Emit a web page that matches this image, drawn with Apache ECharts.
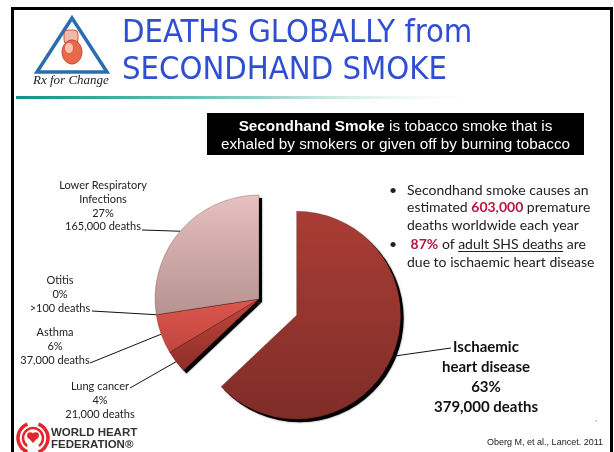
<!DOCTYPE html>
<html><head><meta charset="utf-8">
<script src="https://cdn.jsdelivr.net/npm/echarts@6.0.0/dist/echarts.min.js"></script>
<style>html,body{margin:0;padding:0;background:#fff}#chart{width:614px;height:452px}</style>
</head><body><div id="chart"></div>
<script>
// ---------- data ----------
const categories = ['Ischaemic heart disease', 'Lung cancer', 'Asthma', 'Otitis', 'Lower Respiratory Infections'];
const labelNames = ['Ischaemic\nheart disease', 'Lung cancer', 'Asthma', 'Otitis', 'Lower Respiratory\nInfections'];
const deaths = [379000, 21000, 37000, 100, 165000];
const percentLabels = ['63%', '4%', '6%', '0%', '27%'];
const deathLabels = ['379,000 deaths', '21,000 deaths', '37,000 deaths', '>100 deaths', '165,000 deaths'];

// ---------- layout / style ----------
const PIE_CENTER = [259, 299], PIE_R = 104, EXPLODE = 41, SHADOW = [3, 3];
const labelPlacement = [
  {x: 486, y: 337, lx: 451, ly: 348},
  {x: 100, y: 380, lx: 130, ly: 388},
  {x: 55,  y: 326, lx: 90,  ly: 363},
  {x: 60,  y: 274, lx: 92,  ly: 311},
  {x: 103, y: 179, lx: 142, ly: 230}
];
const sliceColors = [['#A93D35', '#7F2C27'], ['#C2473E', '#8D2D28'], ['#DB574D', '#C0463E'], ['#D0504A', '#C04840'], ['#E7C0C0', '#B69291']];
const SANS = 'Lato, "Open Sans", sans-serif';

const chart = echarts.init(document.getElementById('chart'));
const total = deaths.reduce((a, b) => a + b, 0);
const midRad = deaths[0] / total * Math.PI; // half of the exploded slice angle
const centerB = [PIE_CENTER[0] + EXPLODE * Math.sin(midRad), PIE_CENTER[1] - EXPLODE * Math.cos(midRad)];

function grad(c) {
  return new echarts.graphic.LinearGradient(0, 0, 0, 1, [{offset: 0, color: c[0]}, {offset: 1, color: c[1]}]);
}
function makeData(visible, shadow) {
  return categories.map((name, i) => {
    const vis = visible(i);
    return {
      name, value: deaths[i],
      itemStyle: vis ? (shadow ? {color: '#000', shadowBlur: 2, shadowColor: 'rgba(0,0,0,0.6)'} :
                       {color: grad(sliceColors[i]), borderColor: 'rgba(70,20,20,0.45)', borderWidth: 0.6})
                     : {opacity: 0},
      label: {show: vis && !shadow},
      labelLine: {show: vis && !shadow}
    };
  });
}
function fmt(p) {
  const i = p.dataIndex;
  return labelNames[i] + '\n' + percentLabels[i] + '\n' + deathLabels[i];
}
function layoutFn(p) {
  const pl = labelPlacement[p.dataIndex];
  const o = {x: pl.x, y: pl.y, align: 'center', verticalAlign: 'top'};
  if (p.labelLinePoints && p.labelLinePoints.length) o.labelLinePoints = [p.labelLinePoints[0], [pl.lx, pl.ly]];
  return o;
}
const base = {type: 'pie', radius: PIE_R, startAngle: 90, clockwise: true, avoidLabelOverlap: false,
  silent: true, animation: false, emphasis: {disabled: true}, minAngle: 0};

const shadowA = Object.assign({}, base, {center: [PIE_CENTER[0] + SHADOW[0], PIE_CENTER[1] + SHADOW[1]], z: 1,
  data: makeData(i => i !== 0, true), label: {show: false}, labelLine: {show: false}});
const shadowB = Object.assign({}, base, {center: [centerB[0] + SHADOW[0], centerB[1] + SHADOW[1]], z: 1,
  data: makeData(i => i === 0, true), label: {show: false}, labelLine: {show: false}});
const mainA = Object.assign({}, base, {center: PIE_CENTER, z: 2, data: makeData(i => i !== 0, false),
  label: {position: 'outside', formatter: fmt, fontFamily: SANS, fontSize: 11, lineHeight: 13.6, color: '#222'},
  labelLine: {length: 8, length2: 8, lineStyle: {color: '#111', width: 1}},
  labelLayout: layoutFn});
const mainB = Object.assign({}, base, {center: centerB, z: 2, data: makeData(i => i === 0, false),
  label: {position: 'outside', formatter: fmt, fontFamily: SANS, fontSize: 15, fontWeight: 'bold', lineHeight: 20, color: '#111'},
  labelLine: {length: 8, length2: 8, lineStyle: {color: '#111', width: 1}},
  labelLayout: layoutFn});

// underline measurement
const mctx = document.createElement('canvas').getContext('2d');
function tw(t, font) { mctx.font = font; return mctx.measureText(t).width; }
const BUL_FS = 14, BUL_X = 407;
const regF = BUL_FS + 'px ' + SANS, boldF = 'bold ' + BUL_FS + 'px ' + SANS;
const ulX0 = BUL_X + tw(' ', regF) + tw('87%', boldF) + tw(' of ', regF);
const ulX1 = ulX0 + tw('adult SHS deaths', regF);

const bulletRich = {
  r: {fill: '#B8163C', fontWeight: 'bold', fontFamily: SANS, fontSize: BUL_FS}
};
function bulletLine(text, y) {
  return {type: 'text', x: BUL_X, y: y, style: {text: text, fontFamily: SANS, fontSize: BUL_FS, fill: '#222',
    verticalAlign: 'middle', rich: bulletRich}};
}
const RED = '#E2262B';
const BOX_FS = 15.3;

const graphic = [
  {type: 'rect', shape: {x: 12.5, y: 8.5, width: 599, height: 470}, style: {fill: null, stroke: '#000', lineWidth: 3}},
  {type: 'rect', shape: {x: 16, y: 96, width: 480, height: 3},
   style: {fill: new echarts.graphic.LinearGradient(0, 0, 1, 0, [{offset: 0, color: '#0E9484'}, {offset: 0.5, color: '#8FCFC6'}, {offset: 1, color: 'rgba(255,255,255,0)'}])}},
  // Rx for Change logo
  {type: 'polygon', shape: {points: [[72, 18], [37, 72], [107, 72]]}, style: {fill: '#fff', stroke: '#2C6DB0', lineWidth: 3.5, lineJoin: 'miter'}},
  {type: 'rect', shape: {x: 64, y: 30, width: 14, height: 14, r: 4}, style: {fill: '#F3B9A8', stroke: '#C0392B', lineWidth: 0.8}},
  {type: 'ellipse', shape: {cx: 72, cy: 52, rx: 10, ry: 12}, style: {fill: '#E8694A', stroke: '#B5382A', lineWidth: 0.8}},
  {type: 'ellipse', shape: {cx: 69, cy: 48, rx: 4, ry: 5}, style: {fill: '#F6C2B2'}},
  {type: 'text', x: 33, y: 81, style: {text: 'Rx for Change', font: 'italic 13px "Liberation Serif", serif', fill: '#222', verticalAlign: 'middle'}},
  // title
  {type: 'text', x: 122, y: 34, style: {text: 'DEATHS GLOBALLY from', fontFamily: '"DejaVu Sans Condensed", "DejaVu Sans"', fontSize: 32.5, fill: '#2F4ED3', verticalAlign: 'middle'}},
  {type: 'text', x: 122, y: 71, style: {text: 'SECONDHAND SMOKE', fontFamily: '"DejaVu Sans Condensed", "DejaVu Sans"', fontSize: 32.5, fill: '#2F4ED3', verticalAlign: 'middle'}},
  // definition box
  {type: 'rect', shape: {x: 207, y: 113, width: 377, height: 42}, style: {fill: '#000'}},
  {type: 'text', x: 395.5, y: 127, style: {text: '{b|Secondhand Smoke} is tobacco smoke that is', fontFamily: '"Liberation Sans", Arial', fontSize: BOX_FS, fill: '#fff', align: 'center', verticalAlign: 'middle',
    rich: {b: {fontWeight: 'bold', fontFamily: '"Liberation Sans", Arial', fontSize: BOX_FS, fill: '#fff'}}}},
  {type: 'text', x: 395.5, y: 145, style: {text: 'exhaled by smokers or given off by burning tobacco', fontFamily: '"Liberation Sans", Arial', fontSize: BOX_FS, fill: '#fff', align: 'center', verticalAlign: 'middle'}},
  // bullets
  {type: 'text', x: 389, y: 190, style: {text: '•', fontFamily: SANS, fontSize: 14, fill: '#222', verticalAlign: 'middle'}},
  {type: 'text', x: 389, y: 244, style: {text: '•', fontFamily: SANS, fontSize: 14, fill: '#222', verticalAlign: 'middle'}},
  bulletLine('Secondhand smoke causes an', 190),
  bulletLine('estimated {r|603,000} premature', 207),
  bulletLine('deaths worldwide each year', 225),
  bulletLine(' {r|87%} of adult SHS deaths are', 244),
  bulletLine('due to ischaemic heart disease', 262),
  {type: 'line', shape: {x1: ulX0, y1: 251.5, x2: ulX1, y2: 251.5}, style: {stroke: '#222', lineWidth: 1}},
  // World Heart Federation logo
  {type: 'arc', shape: {cx: 33, cy: 438, r: 15, startAngle: Math.PI * 0.62, endAngle: Math.PI * 1.38}, style: {stroke: RED, lineWidth: 3.5, fill: null}},
  {type: 'arc', shape: {cx: 33, cy: 438, r: 15, startAngle: Math.PI * 1.62, endAngle: Math.PI * 2.38}, style: {stroke: RED, lineWidth: 3.5, fill: null}},
  {type: 'arc', shape: {cx: 33, cy: 438, r: 10, startAngle: Math.PI * 0.7, endAngle: Math.PI * 2.3}, style: {stroke: RED, lineWidth: 2.5, fill: null}},
  {type: 'circle', shape: {cx: 30.3, cy: 435.5, r: 3.2}, style: {fill: RED}},
  {type: 'circle', shape: {cx: 35.7, cy: 435.5, r: 3.2}, style: {fill: RED}},
  {type: 'polygon', shape: {points: [[27.3, 436.8], [38.7, 436.8], [33, 443]]}, style: {fill: RED}},
  {type: 'text', x: 51, y: 433, style: {text: 'WORLD HEART', fontFamily: '"Liberation Sans", Arial', fontWeight: 'bold', fontSize: 11.5, fill: '#333', verticalAlign: 'middle'}},
  {type: 'text', x: 51, y: 445, style: {text: 'FEDERATION®', fontFamily: '"Liberation Sans", Arial', fontWeight: 'bold', fontSize: 11.5, fill: '#333', verticalAlign: 'middle'}},
  // citation
  {type: 'text', x: 603, y: 443, style: {text: 'Oberg M, et al., Lancet. 2011', fontFamily: '"Liberation Sans", Arial', fontSize: 9, fill: '#222', align: 'right', verticalAlign: 'middle'}},
  {type: 'text', x: 595, y: 419, style: {text: ',', fontFamily: '"Liberation Sans", Arial', fontSize: 8, fill: '#555', verticalAlign: 'middle'}}
];

chart.setOption({
  animation: false,
  backgroundColor: '#fff',
  graphic: graphic,
  series: [shadowA, shadowB, mainA, mainB]
});
</script></body></html>
